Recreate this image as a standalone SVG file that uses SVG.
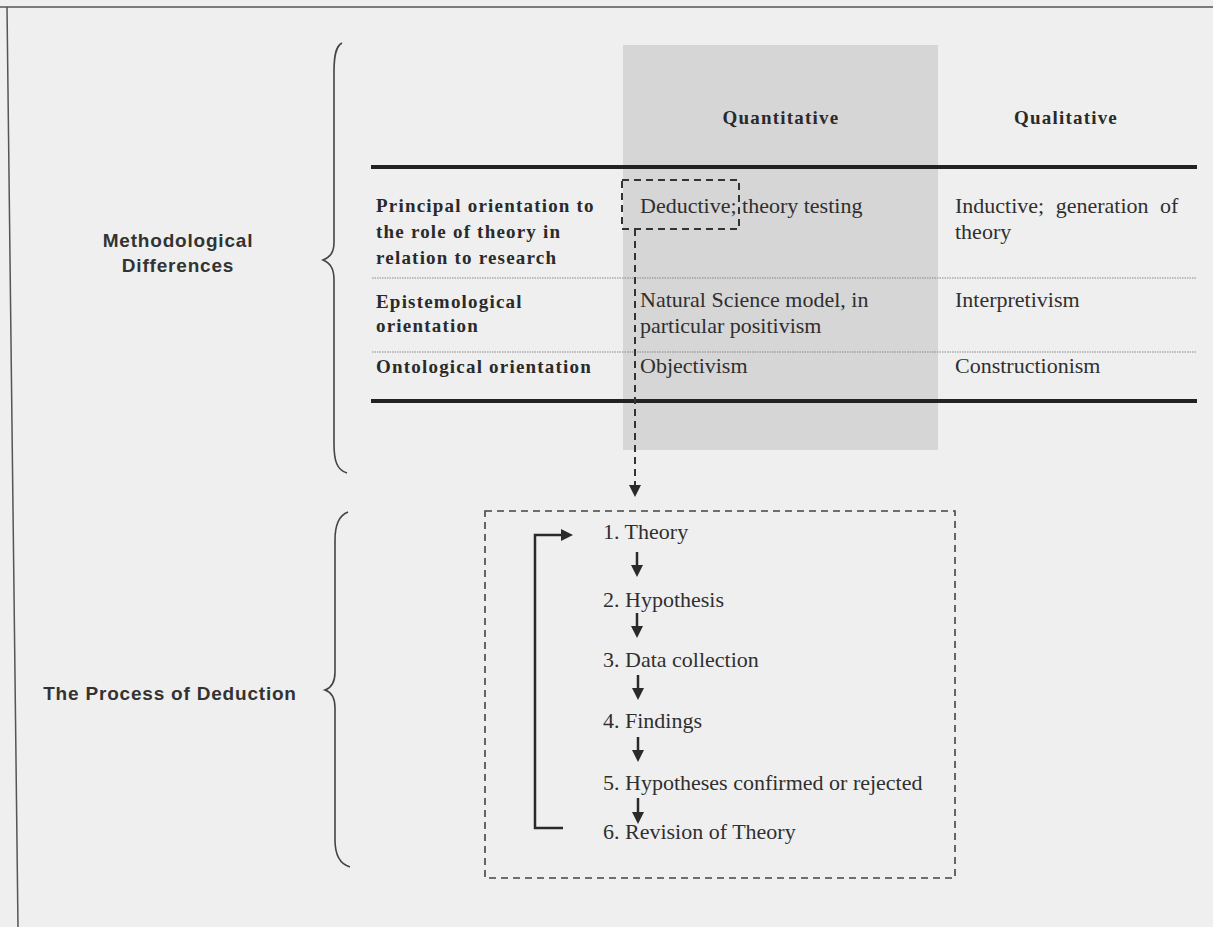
<svg xmlns="http://www.w3.org/2000/svg" width="1213" height="927" viewBox="0 0 1213 927">
  <style>
    .bg { fill: #efefef; }
    .frame { stroke: #555; stroke-width: 1.5; fill: none; }
    .brace { stroke: #444; stroke-width: 1.6; fill: none; }
    .side { font-family: "Liberation Sans", Arial, sans-serif; font-weight: bold; font-size: 19px; fill: #333; letter-spacing: 0.8px; }
    .head { font-family: "Liberation Serif", "Times New Roman", serif; font-weight: bold; font-size: 19px; fill: #2a2a2a; letter-spacing: 1.2px; }
    .cell { font-family: "Liberation Serif", "Times New Roman", serif; font-size: 22px; fill: #2f2f2f; }
    .rule { stroke: #222; stroke-width: 4; }
    .sep { stroke: #888; stroke-width: 1.2; stroke-dasharray: 1.5 1; }
    .dash { stroke: #333; stroke-width: 2; fill: none; stroke-dasharray: 7 5; }
    .pbox { stroke: #444; stroke-width: 1.6; fill: none; stroke-dasharray: 7 5; }
    .flow { stroke: #2a2a2a; stroke-width: 2.5; fill: none; }
  </style>
  <defs>
    <marker id="head" viewBox="0 0 12 12" refX="0" refY="6" markerWidth="12" markerHeight="12" markerUnits="userSpaceOnUse" orient="auto">
      <path d="M0,0 L12,6 L0,12 z" fill="#2a2a2a"/>
    </marker>
  </defs>

  <!-- page -->
  <rect class="bg" x="0" y="0" width="1213" height="927"/>
  <line class="frame" x1="0" y1="7" x2="1213" y2="7"/>
  <line class="frame" x1="7" y1="7" x2="18" y2="927"/>

  <!-- brace: methodological differences -->
  <g id="methodological">
    <path class="brace" d="M342,43 C336,46 334,55 334,72 L334,242 C334,253 330,257 323,260 C330,263 334,268 334,280 L334,444 C334,461 337,470 347,473"/>
    <text class="side" x="178" y="247" text-anchor="middle">Methodological</text>
    <text class="side" x="178" y="272" text-anchor="middle">Differences</text>
  </g>

  <!-- brace: process of deduction -->
  <g id="deduction-label">
    <path class="brace" d="M348,512 C340,515 335,524 335,540 L335,672 C335,683 331,688 325,690 C331,692 335,697 335,708 L335,840 C335,856 340,864 350,867"/>
    <text class="side" x="170" y="700" text-anchor="middle">The Process of Deduction</text>
  </g>

  <!-- comparison table -->
  <g id="table">
    <rect x="623" y="45" width="315" height="405" fill="#d6d6d6"/>
    <text class="head" x="781" y="124" text-anchor="middle">Quantitative</text>
    <text class="head" x="1066" y="124" text-anchor="middle">Qualitative</text>
    <line class="rule" x1="371" y1="167" x2="1197" y2="167"/>
    <line class="sep" x1="372" y1="278" x2="1197" y2="278"/>
    <line class="sep" x1="372" y1="352" x2="1197" y2="352"/>
    <line class="rule" x1="371" y1="401" x2="1197" y2="401"/>

    <text class="head" x="376" y="212">Principal orientation to</text>
    <text class="head" x="376" y="238">the role of theory in</text>
    <text class="head" x="376" y="264">relation to research</text>
    <text class="head" x="376" y="308">Epistemological</text>
    <text class="head" x="376" y="332">orientation</text>
    <text class="head" x="376" y="373">Ontological orientation</text>

    <text class="cell" x="640" y="213">Deductive; theory testing</text>
    <text class="cell" x="955" y="213" word-spacing="6">Inductive; generation of</text>
    <text class="cell" x="955" y="239">theory</text>
    <text class="cell" x="640" y="307">Natural Science model, in</text>
    <text class="cell" x="640" y="333">particular positivism</text>
    <text class="cell" x="955" y="307">Interpretivism</text>
    <text class="cell" x="640" y="373">Objectivism</text>
    <text class="cell" x="955" y="373">Constructionism</text>
  </g>

  <!-- highlighted term -->
  <g id="deductive-mark">
    <rect class="dash" x="622" y="180" width="117" height="49"/>
  </g>

  <!-- process of deduction steps -->
  <g id="process">
    <rect class="pbox" x="485" y="511" width="470" height="367"/>
    <text class="cell" x="603" y="539">1. Theory</text>
    <text class="cell" x="603" y="607">2. Hypothesis</text>
    <text class="cell" x="603" y="667">3. Data collection</text>
    <text class="cell" x="603" y="728">4. Findings</text>
    <text class="cell" x="603" y="790">5. Hypotheses confirmed or rejected</text>
    <text class="cell" x="603" y="839">6. Revision of Theory</text>
  </g>

  <!-- connectors -->
  <g id="connectors">
    <line class="dash" x1="635" y1="229" x2="635" y2="485" marker-end="url(#head)"/>
    <line class="flow" x1="637" y1="552" x2="637" y2="565" marker-end="url(#head)"/>
    <line class="flow" x1="637" y1="613" x2="637" y2="626" marker-end="url(#head)"/>
    <line class="flow" x1="638" y1="675" x2="638" y2="688" marker-end="url(#head)"/>
    <line class="flow" x1="638" y1="737" x2="638" y2="750" marker-end="url(#head)"/>
    <line class="flow" x1="638" y1="798" x2="638" y2="812" marker-end="url(#head)"/>
    <polyline class="flow" points="563,828 535,828 535,535 561,535" marker-end="url(#head)"/>
  </g>
</svg>
